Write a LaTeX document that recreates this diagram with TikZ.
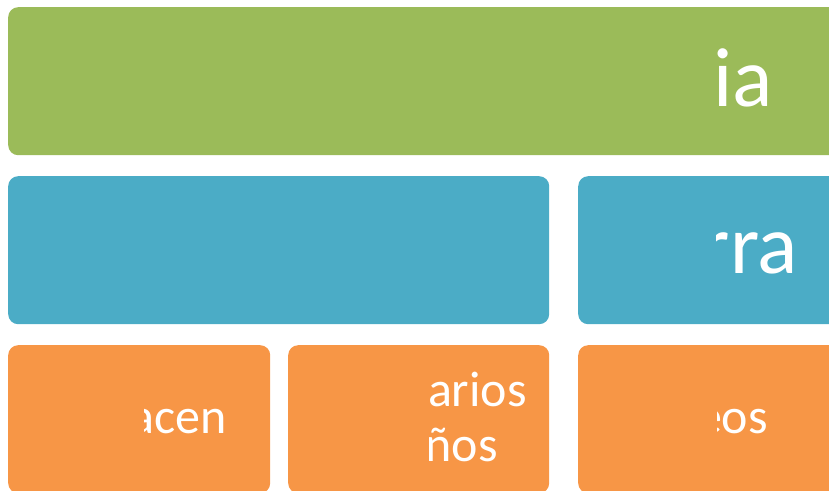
\documentclass[tikz,border=0pt]{standalone}
\usepackage{fontspec}
\setmainfont{Carlito}
\definecolor{cgreen}{HTML}{9BBB59}
\definecolor{cblue}{HTML}{4BACC6}
\definecolor{corange}{HTML}{F79646}
\begin{document}
\begin{tikzpicture}[x=1pt,y=-1pt,
  box/.style={rectangle, rounded corners=10pt, draw=none, anchor=north west, inner sep=0pt},
  bigtext/.style={text=white, font=\fontsize{84}{100}\selectfont, inner sep=0pt, anchor=base east},
  smalltext/.style={text=white, font=\fontsize{50}{60}\selectfont, inner sep=0pt, anchor=base east}]
\useasboundingbox (0,0) rectangle (829,490);
\clip (0,0) rectangle (829,490);
% boxes
\node[box, fill=cgreen, minimum width=860pt, minimum height=148pt] (top) at (8,7) {};
\node[box, fill=cblue, minimum width=541pt, minimum height=148pt] (midl) at (8,176) {};
\node[box, fill=cblue, minimum width=280pt, minimum height=148pt] (midr) at (578,176) {};
\node[box, fill=corange, minimum width=262pt, minimum height=148pt] (bot1) at (8,345) {};
\node[box, fill=corange, minimum width=261pt, minimum height=148pt] (bot2) at (288,345) {};
\node[box, fill=corange, minimum width=280pt, minimum height=148pt] (bot3) at (578,345) {};
% texts
\node[bigtext] (ttop) at (773,106) {ia};
\begin{scope}
  \clip (716,176) rectangle (829,324);
  \node[bigtext] (tmidr) at (798,273) {rra};
\end{scope}
\begin{scope}
  \clip (144,345) rectangle (270,490);
  \node[smalltext] (tb1) at (227,433) {acen};
\end{scope}
\begin{scope}
  \clip (429,345) rectangle (549,490);
  \node[smalltext] (tb2a) at (527,406) {arios};
  \node[smalltext] (tb2b) at (498,461) {ños};
\end{scope}
\begin{scope}
  \clip (717,345) rectangle (829,490);
  \node[smalltext] (tb3) at (768,433) {eos};
\end{scope}
\end{tikzpicture}
\end{document}
